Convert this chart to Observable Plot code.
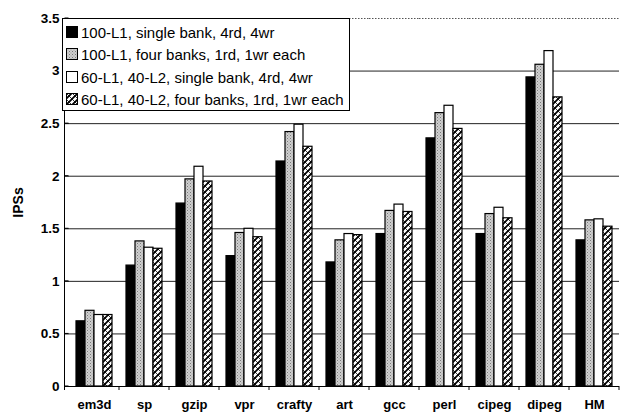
<!DOCTYPE html>
<html><head><meta charset="utf-8">
<script src="https://cdn.jsdelivr.net/npm/d3@7"></script>
<script src="https://cdn.jsdelivr.net/npm/@observablehq/plot@0.6"></script>
<style>
body{margin:0;background:#fff;}
#wrap{position:relative;width:622px;height:413px;font-family:"Liberation Sans",Arial,sans-serif;}
#legend{position:absolute;left:62px;top:18px;width:288px;height:93px;border:1px solid #000;background:#fff;font-size:15px;box-sizing:border-box;color:#000;}
.row{position:absolute;left:3px;display:flex;align-items:center;height:20px;white-space:nowrap;}
.row svg{margin-right:3px;}
</style></head><body>
<svg width="0" height="0" style="position:absolute">
<defs>
<pattern id="dots" width="3" height="3" patternUnits="userSpaceOnUse"><rect width="3" height="3" fill="#cfcfcf"/><rect x="0" y="0" width="1" height="1" fill="#7a7a7a"/><rect x="1.5" y="1.5" width="1" height="1" fill="#9a9a9a"/></pattern>
<pattern id="hatch" width="6" height="6" patternUnits="userSpaceOnUse"><rect width="6" height="6" fill="#fff"/><path d="M0,6 L6,0 M-1,1 L1,-1 M5,7 L7,5" stroke="#000" stroke-width="1.7"/><path d="M0,0 L6,6" stroke="#000" stroke-width="0.8"/></pattern>
</defs></svg>
<div id="wrap"><div id="chart"></div><div id="legend"></div></div>
<script>
const categories = ["em3d","sp","gzip","vpr","crafty","art","gcc","perl","cipeg","dipeg","HM"];
const series = [
  "100-L1, single bank, 4rd, 4wr",
  "100-L1, four banks, 1rd, 1wr each",
  "60-L1, 40-L2, single bank, 4rd, 4wr",
  "60-L1, 40-L2, four banks, 1rd, 1wr each"
];
const l1SingleBank   = [0.62, 1.15, 1.74, 1.24, 2.14, 1.18, 1.45, 2.36, 1.45, 2.94, 1.39];
const l1FourBanks    = [0.72, 1.38, 1.97, 1.46, 2.42, 1.39, 1.67, 2.60, 1.64, 3.06, 1.58];
const l1l2SingleBank = [0.68, 1.32, 2.09, 1.50, 2.49, 1.45, 1.73, 2.67, 1.70, 3.19, 1.59];
const l1l2FourBanks  = [0.68, 1.31, 1.95, 1.42, 2.28, 1.44, 1.66, 2.45, 1.60, 2.75, 1.52];
const yTicks = [0, 0.5, 1, 1.5, 2, 2.5, 3, 3.5];
const gridLines = [0.5, 1, 1.5, 2, 2.5, 3];
const fills = ["#000", "url(#dots)", "#fff", "url(#hatch)"];

const valuesBySeries = [l1SingleBank, l1FourBanks, l1l2SingleBank, l1l2FourBanks];
const data = [];
categories.forEach((c, i) => series.forEach((s, j) => data.push({cat: c, series: s, value: valuesBySeries[j][i]})));

const chart = Plot.plot({
  width: 622, height: 413,
  marginLeft: 66, marginRight: 0, marginTop: 18, marginBottom: 27,
  style: {fontFamily: '"Liberation Sans", Arial, sans-serif', background: "#fff", overflow: "visible"},
  fx: {domain: categories, padding: 0, label: null},
  x: {domain: series, paddingInner: 0.04, paddingOuter: 0.6, axis: null},
  y: {domain: [0, 3.5], label: null},
  color: {domain: series, range: fills},
  marks: [
    Plot.ruleY(gridLines, {stroke: "#222", strokeWidth: 1}),
    Plot.ruleY([3.5], {stroke: "#555", strokeDasharray: "1.5,1.5"}),
    Plot.barY(data, {fx: "cat", x: "series", y: "value", fill: "series", stroke: "#000", strokeWidth: 1.2}),
    Plot.ruleY([0], {stroke: "#000"}),
    Plot.axisY({ticks: yTicks, tickSize: 4, tickPadding: 6, tickFormat: d => String(d), fontSize: 13.5, fontWeight: "bold",
      label: "IPSs", labelAnchor: "center", labelArrow: "none", labelOffset: 56}),
    Plot.axisFx({anchor: "bottom", tickSize: 0, tickPadding: 13, fontSize: 13, fontWeight: "bold", label: null})
  ]
});
document.getElementById("chart").appendChild(chart);

// axis line, inner y ticks, and category boundary ticks
const svg = d3.select(chart);
svg.selectAll('[aria-label="y-axis label"]').attr("font-size", 14).attr("font-weight", "bold");
const y = chart.scale("y"), fx = chart.scale("fx");
const x0 = 64.5;
const g = svg.append("g").attr("stroke", "#000").attr("stroke-width", 1);
g.append("line").attr("x1", x0).attr("x2", x0).attr("y1", y.apply(3.5)).attr("y2", y.apply(0) + 4);
yTicks.forEach(t => g.append("line").attr("x1", x0).attr("x2", x0 + 4).attr("y1", y.apply(t)).attr("y2", y.apply(t)));
categories.forEach(c => {
  const xs = fx.apply(c) + fx.bandwidth;
  g.append("line").attr("x1", xs).attr("x2", xs).attr("y1", y.apply(0)).attr("y2", y.apply(0) + 4);
});

// legend
const legend = document.getElementById("legend");
const rowTops = [3, 25, 48, 70];
series.forEach((s, j) => {
  const row = document.createElement("div");
  row.className = "row";
  row.style.top = rowTops[j] + "px";
  row.innerHTML = `<svg width="12" height="12"><rect x="0.5" y="0.5" width="11" height="11" fill="${fills[j]}" stroke="#000" stroke-width="1"/></svg><span>${s}</span>`;
  legend.appendChild(row);
});
</script>
</body></html>
